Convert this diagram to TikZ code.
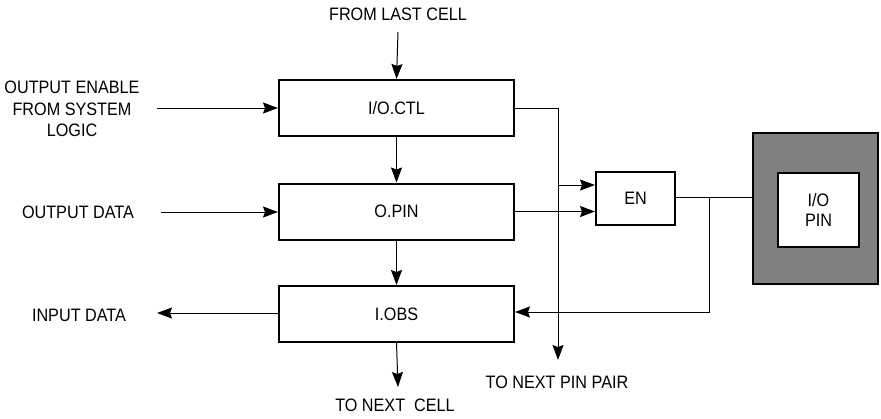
\documentclass[tikz,border=0pt]{standalone}
\usepackage{fontspec}
\setmainfont[FakeStretch=0.9]{Liberation Sans}
\usetikzlibrary{arrows.meta}
\begin{document}
\begin{tikzpicture}[x=1pt,y=-1pt,
  every node/.style={font=\fontsize{18}{21.5}\selectfont, inner sep=0pt},
  blk/.style={draw, line width=2pt, minimum width=235pt, minimum height=56pt},
  lbl/.style={align=center},
  conn/.style={line width=1pt},
  arr/.style={conn, -{Stealth[length=15pt,width=11pt,inset=2pt]}}]
\useasboundingbox (0,0) rectangle (881,418);
% blocks
\node[blk] (ctl)  at (396.5,108) {I/O.CTL};
\node[blk] (opin) at (396.5,211.5) {O.PIN};
\node[blk] (iobs) at (396.5,314) {I.OBS};
\node[draw, line width=2pt, minimum width=79pt, minimum height=53pt] (en) at (635.5,198.5) {EN};
\node[draw, line width=1.5pt, fill={rgb,255:red,128;green,128;blue,128}, minimum width=125pt, minimum height=151pt] (pinbox) at (815.5,208.5) {};
\node[draw, line width=2pt, fill=white, align=center, minimum width=81pt, minimum height=74pt] (pin) at (818.5,210) {I/O\\[-2pt]PIN};
% labels
\node[lbl] (fromlast) at (398,14) {FROM LAST CELL};
\node[lbl] (oe) at (72,109) {OUTPUT ENABLE\\FROM SYSTEM\\LOGIC};
\node[lbl] (od) at (78,212) {OUTPUT DATA};
\node[lbl] (id) at (79,315) {INPUT DATA};
\node[lbl] (nextcell) at (395,405) {TO NEXT\ \ CELL};
\node[lbl] (nextpin) at (557,382) {TO NEXT PIN PAIR};
% free ends
\coordinate (c1) at (398,32);
\coordinate (c2) at (157,108);
\coordinate (c3) at (161,212);
\coordinate (c4) at (157,313);
\coordinate (c5) at (398,387);
\coordinate (c6) at (558,360);
\coordinate (bus) at (558,108);
\coordinate (tap) at (558,185);
\coordinate (jn) at (709,197);
% connectors
\draw[arr] (c1) -- (ctl.north);
\draw[arr] (c2) -- (ctl.west |- c2);
\draw[arr] (c3) -- (opin.west |- c3);
\draw[arr] (iobs.west |- c4) -- (c4);
\draw[arr] (ctl.south) -- (opin.north);
\draw[arr] (opin.south) -- (iobs.north);
\draw[arr] (iobs.south) -- (c5);
\draw[arr] (ctl.east |- bus) -- (bus) -- (c6);
\draw[arr] (tap) -- (en.west |- tap);
\draw[arr] (opin.east) -- (en.west |- opin.east);
\draw[conn] (en.east |- jn) -- (pinbox.west |- jn);
\draw[arr] (jn) -- (709,312) -- (iobs.east |- 0,312);
\end{tikzpicture}
\end{document}
